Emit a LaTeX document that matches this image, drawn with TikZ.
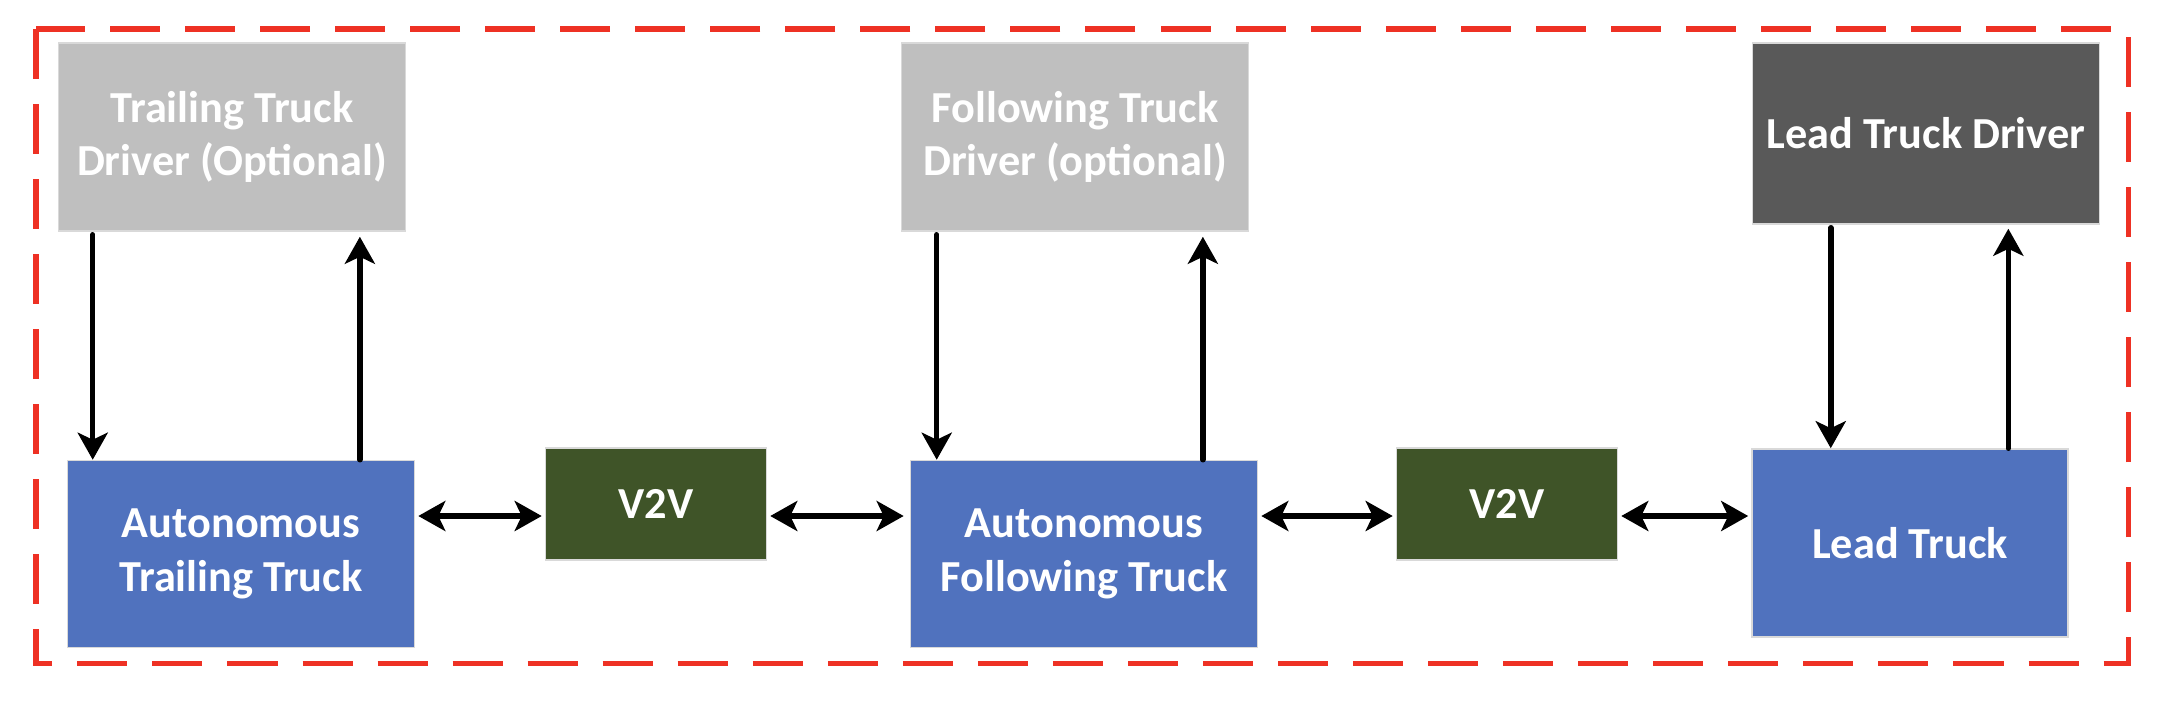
\documentclass[tikz,border=0pt]{standalone}
\usepackage{fontspec}
\setmainfont{Carlito}
\usetikzlibrary{arrows.meta}

\definecolor{drvgray}{HTML}{BFBFBF}
\definecolor{leadgray}{HTML}{595959}
\definecolor{truckblue}{HTML}{5072BE}
\definecolor{vgreen}{HTML}{3F5428}
\definecolor{borderred}{HTML}{EE3124}

\tikzset{
    box/.style={rectangle, draw=black!15, line width=0.4pt, text=white, align=center,
        font=\fontsize{12.6}{15.2}\selectfont\bfseries, inner sep=0pt},
    driver/.style={box, fill=drvgray, minimum width=3.47cm, minimum height=1.88cm},
    truck/.style={box, fill=truckblue, minimum width=3.47cm, minimum height=1.87cm},
    vtov/.style={box, fill=vgreen, minimum width=2.21cm, minimum height=1.12cm},
    tip/.style={Stealth[length=0.27cm, width=0.3cm, inset=0.07cm]},
    arr/.style={line width=0.055cm, line cap=round, -{Stealth[length=0.27cm, width=0.3cm, inset=0.07cm]}},
    dbl/.style={arr, {Stealth[length=0.27cm, width=0.3cm, inset=0.07cm]}-{Stealth[length=0.27cm, width=0.3cm, inset=0.07cm]}}
}

\begin{document}
\begin{tikzpicture}[x=0.01cm, y=-0.01cm]
    \useasboundingbox (0,0) rectangle (2168,718);
    \draw[borderred, line width=0.05cm, dash pattern=on 0.5cm off 0.25cm] (36,29) rectangle (2128,663);

    % drivers
    \node[driver] (ttd) at (232,137) {Trailing Truck\\Driver (Optional)};
    \node[driver] (ftd) at (1075,137) {Following Truck\\Driver (optional)};
    \node[driver, fill=leadgray, minimum height=1.81cm] (ltd) at (1926,133.5) {Lead Truck Driver};

    % trucks and links
    \node[truck] (att) at (241,554) {Autonomous\\Trailing Truck};
    \node[vtov] (v1) at (656,504) {V2V};
    \node[truck] (aft) at (1084,554) {Autonomous\\Following Truck};
    \node[vtov] (v2) at (1507,504) {V2V};
    \node[truck, minimum width=3.16cm, minimum height=1.88cm] (lt) at (1910,543) {Lead Truck};

    % driver <-> truck
    \draw[arr] ([xshift=0.35cm, yshift=-0.03cm]ttd.south west) -- ([xshift=0.35cm]ttd.south west |- att.north);
    \draw[arr] ([xshift=2.93cm]att.north west) -- ([xshift=2.93cm, yshift=-0.05cm]att.north west |- ttd.south);
    \draw[arr] ([xshift=0.36cm, yshift=-0.03cm]ftd.south west) -- ([xshift=0.36cm]ftd.south west |- aft.north);
    \draw[arr] ([xshift=2.93cm]aft.north west) -- ([xshift=2.93cm, yshift=-0.05cm]aft.north west |- ftd.south);
    \draw[arr] ([xshift=0.79cm, yshift=-0.03cm]ltd.south west) -- ([xshift=0.79cm]ltd.south west |- lt.north);
    \draw[arr] ([xshift=2.57cm]lt.north west) -- ([xshift=2.57cm, yshift=-0.04cm]lt.north west |- ltd.south);

    % V2V links
    \coordinate (m1) at ([yshift=-0.12cm]v1.west);
    \coordinate (m2) at ([yshift=-0.12cm]v1.east);
    \coordinate (m3) at ([yshift=-0.12cm]v2.west);
    \coordinate (m4) at ([yshift=-0.12cm]v2.east);
    \draw[dbl] ([xshift=0.03cm]att.east |- m1) -- ([xshift=-0.03cm]m1);
    \draw[dbl] ([xshift=0.03cm]m2) -- ([xshift=-0.06cm]aft.west |- m2);
    \draw[dbl] ([xshift=0.03cm]aft.east |- m3) -- ([xshift=-0.03cm]m3);
    \draw[dbl] ([xshift=0.03cm]m4) -- ([xshift=-0.03cm]lt.west |- m4);
\end{tikzpicture}
\end{document}
